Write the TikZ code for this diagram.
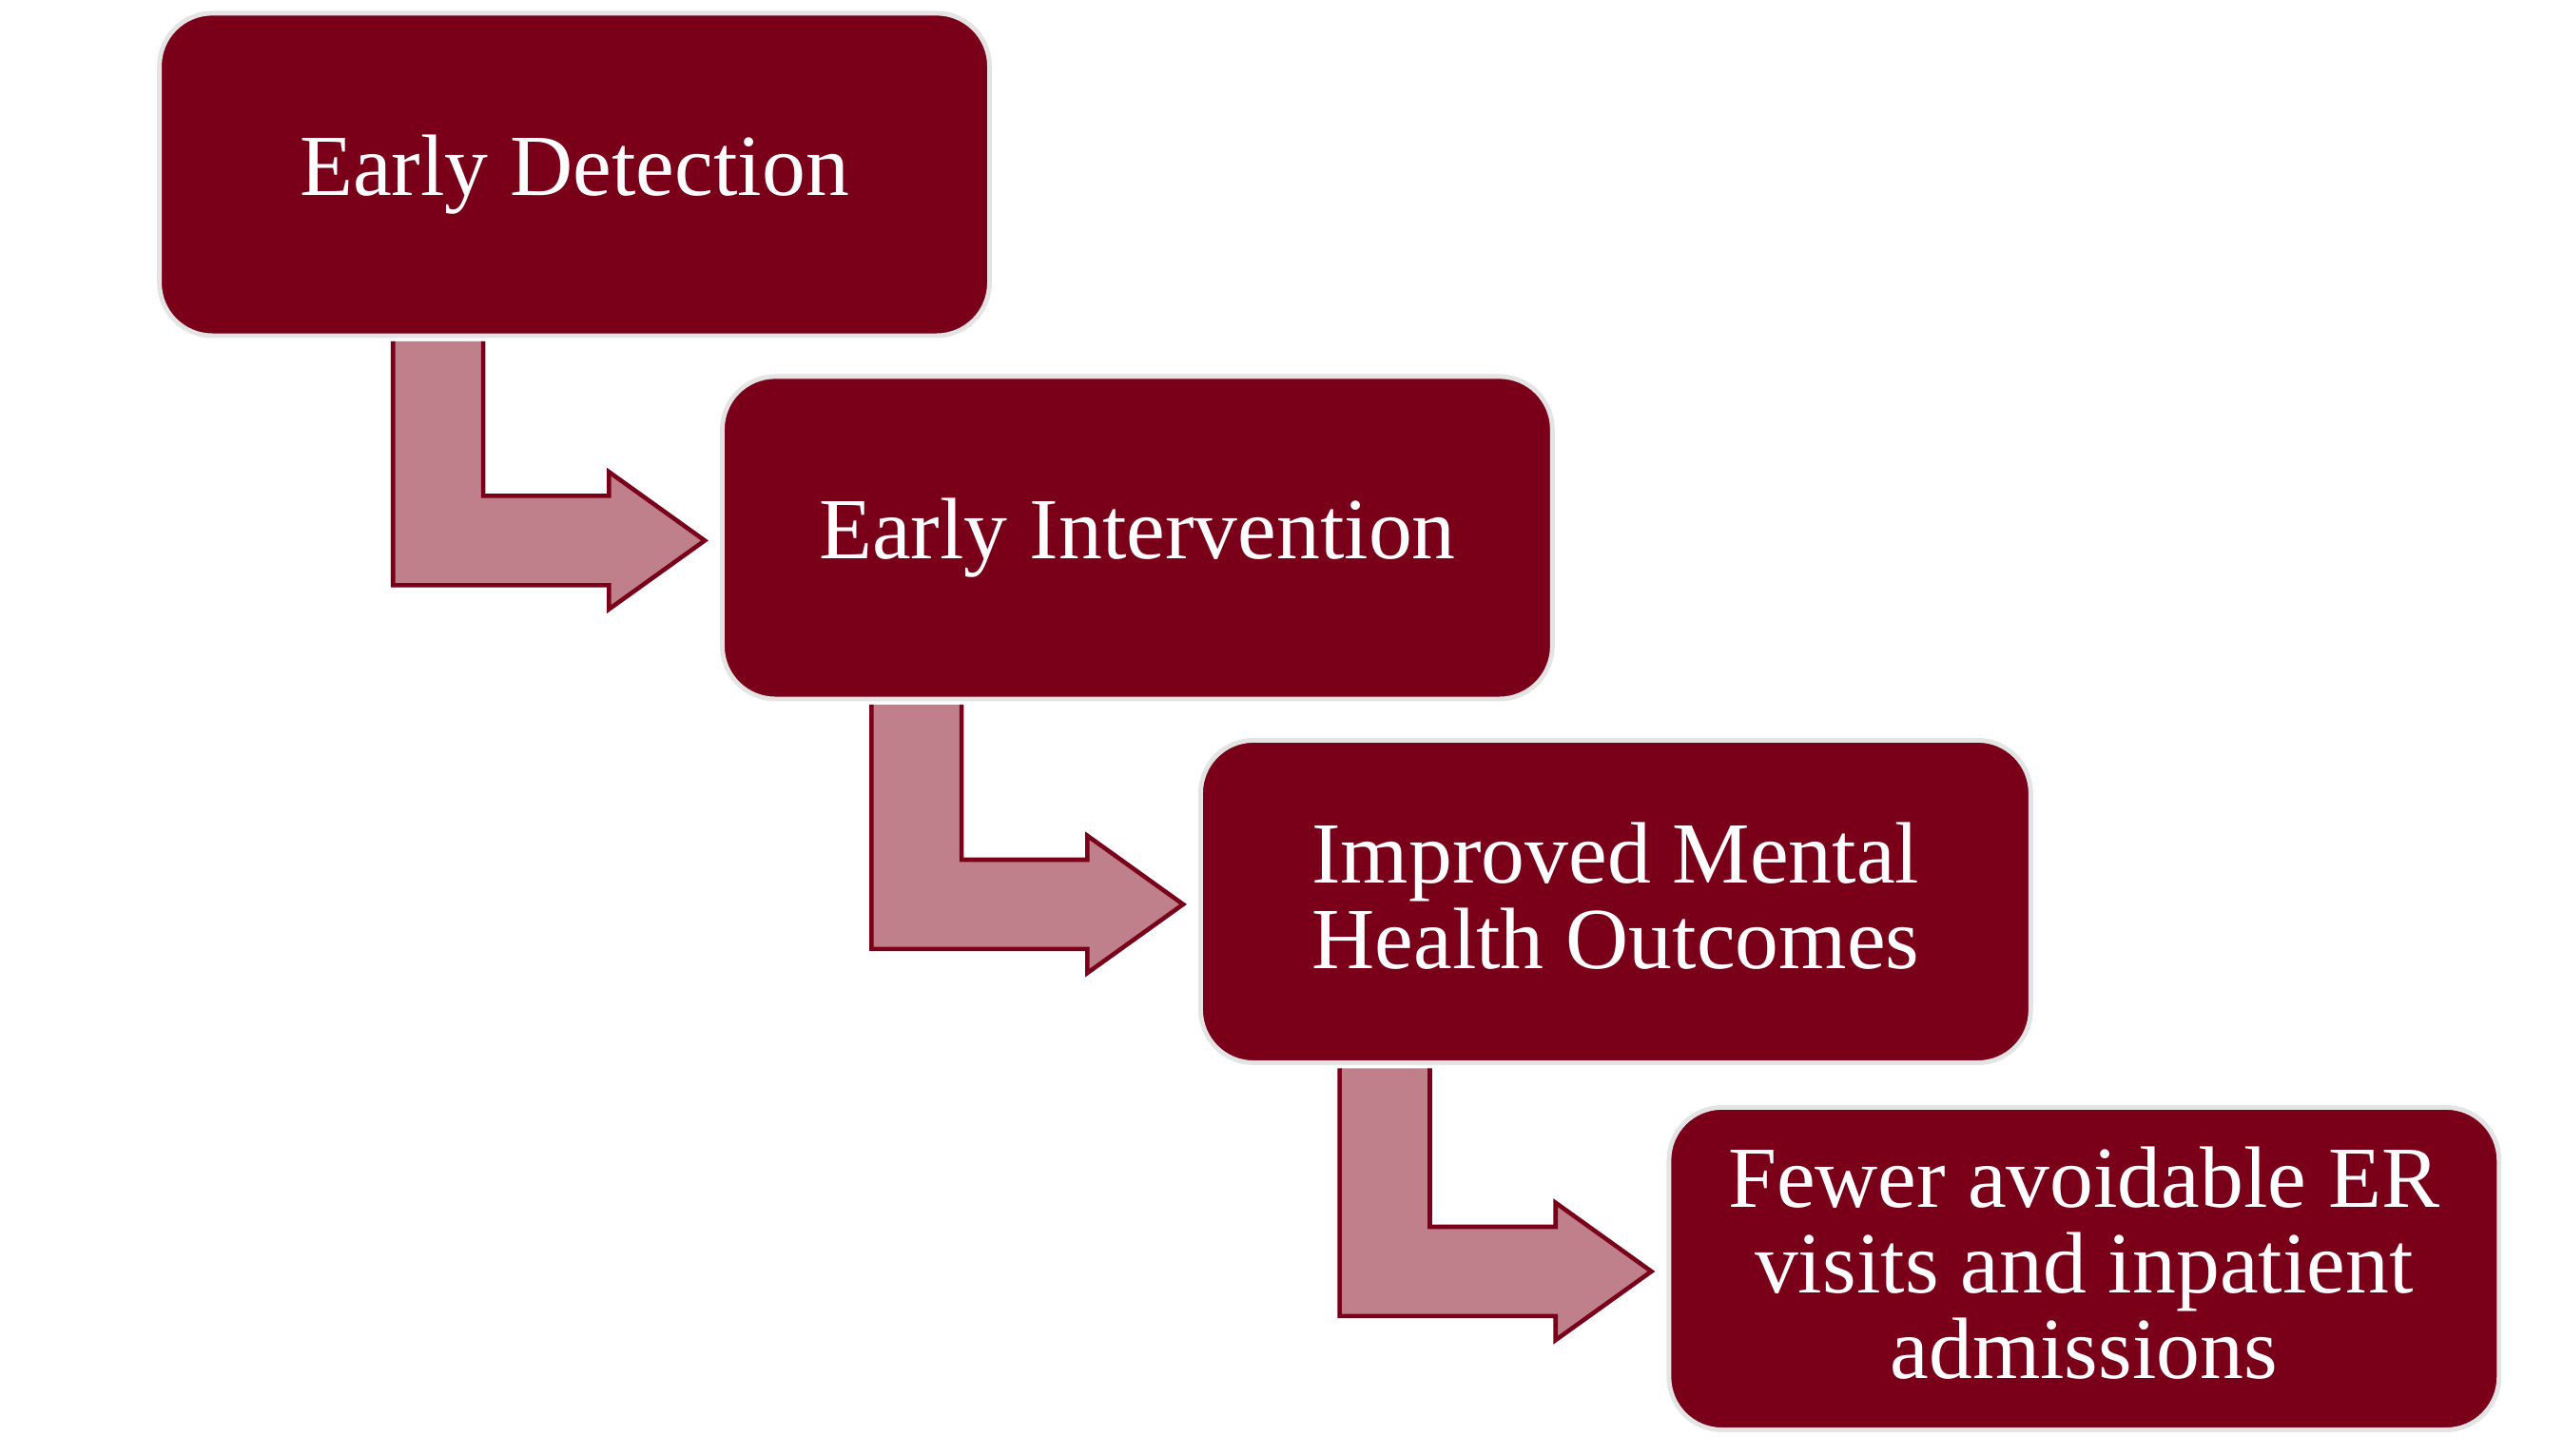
\documentclass[tikz,border=0pt]{standalone}
\usepackage{fontspec}
\setmainfont{Liberation Serif}
\usepackage{xcolor}
\usetikzlibrary{calc, positioning}

\definecolor{maroon}{HTML}{7A0019}
\definecolor{rosefill}{HTML}{BF808B}
\definecolor{rimgray}{HTML}{E4E4E4}

\newcommand{\boxstrut}{\rule[-2pt]{0pt}{2pt}}

\tikzset{
    stepbox/.style={draw=rimgray, line width=0.8pt, fill=maroon, text=white,
        rounded corners=0.32cm, minimum width=5.02cm, minimum height=1.95cm,
        inner sep=2pt, align=center, font=\fontsize{15}{14.7}\selectfont,
        execute at end node=\boxstrut},
    bendarrow/.style={fill=rosefill, draw=maroon, line width=0.75pt}
}

\begin{document}
\begin{tikzpicture}
    \useasboundingbox (0, 0) rectangle (15.5, -8.8);
    \node[stepbox] (d1) at (3.474, -1.055) {Early Detection};
    \node[stepbox] (d2) at (6.878, -3.252) {Early Intervention};
    \node[stepbox] (d3) at (9.771, -5.452) {Improved Mental\\Health Outcomes};
    \node[stepbox] (d4) at (12.603, -7.672) {Fewer avoidable ER\\visits and inpatient\\admissions};
    % bent arrows, open at the top under the box above
    \foreach \a/\b in {d1/d2, d2/d3, d3/d4}
        \path[bendarrow] let \p1 = (\a.south), \p2 = ($(\b.west)+(0,-0.017)$) in
            (\x2-1.432cm, \y1-0.02cm) -- (\x2-1.432cm, \y2+0.27cm)
            -- (\x2-0.671cm, \y2+0.27cm) -- (\x2-0.671cm, \y2+0.415cm)
            -- (\x2-0.092cm, \y2) -- (\x2-0.671cm, \y2-0.415cm)
            -- (\x2-0.671cm, \y2-0.27cm) -- (\x2-1.977cm, \y2-0.27cm)
            -- (\x2-1.977cm, \y1-0.02cm);
\end{tikzpicture}
\end{document}
